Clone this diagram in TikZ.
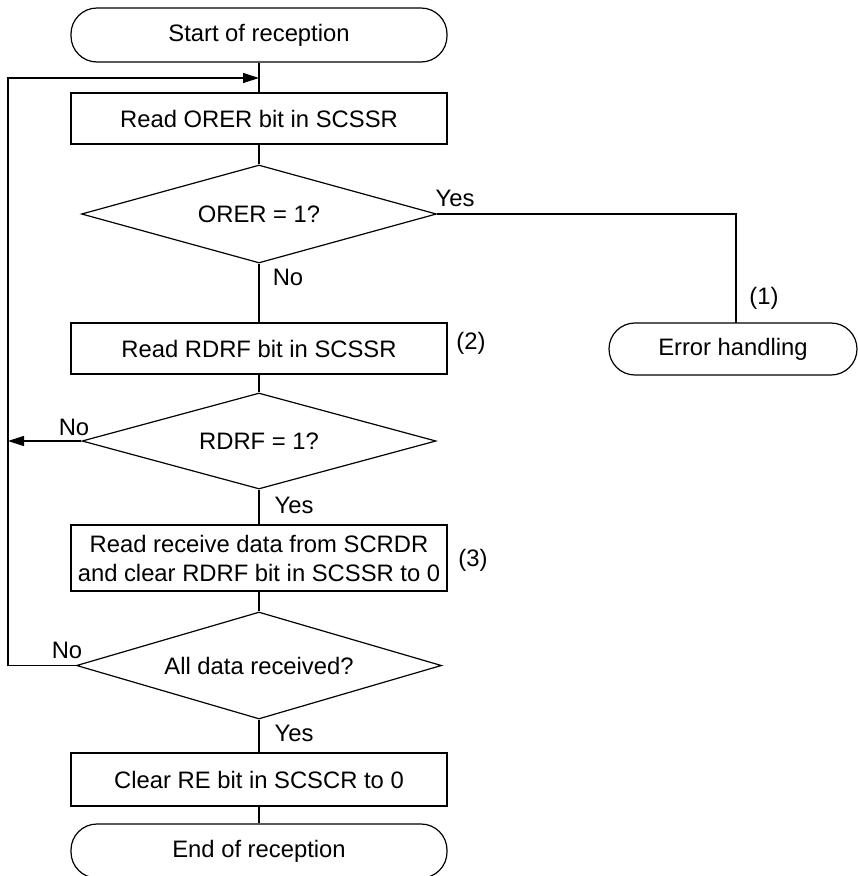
\documentclass[tikz,border=0pt]{standalone}
\usepackage{fontspec}
\setmainfont{Liberation Sans}
\usetikzlibrary{shapes.geometric,arrows.meta}
\tikzset{
  every node/.style={font=\fontsize{23.8}{29}\selectfont, text=black},
  proc/.style={draw, line width=1.2pt, rectangle, minimum width=376pt, inner sep=0pt, align=center},
  term/.style={draw, line width=1.2pt, rectangle, rounded corners=26pt, minimum width=376pt, minimum height=54pt, inner sep=0pt},
  decide/.style={draw, line width=1.2pt, diamond, inner sep=0pt},
  conn/.style={line width=1.2pt},
  tip/.style={-{Triangle[length=16pt,width=10pt]}},
  lbl/.style={inner sep=0pt}
}
\begin{document}
\begin{tikzpicture}[x=1pt,y=-1pt]
\useasboundingbox (0,0) rectangle (858,876);
% nodes
\node[term] (start) at (259,35) {Start of reception};
\node[proc, minimum height=51pt] (b1) at (259,118.5) {Read ORER bit in SCSSR};
\node[decide, aspect=3.62, minimum width=355pt, minimum height=98pt] (d1) at (259,214) {ORER = 1?};
\node[proc, minimum height=51pt] (b2) at (259,348.5) {Read RDRF bit in SCSSR};
\node[decide, aspect=3.69, minimum width=354pt, minimum height=96pt] (d2) at (259,441) {RDRF = 1?};
\node[proc, minimum height=66pt] (b3) at (259,558) {Read receive data from SCRDR\\and clear RDRF bit in SCSSR to 0};
\node[decide, aspect=3.41, minimum width=365pt, minimum height=107pt] (d3) at (259,665.5) {All data received?};
\node[proc, minimum height=53pt] (b4) at (259,779.5) {Clear RE bit in SCSCR to 0};
\node[term] (end) at (259,851) {End of reception};
\node[term, minimum width=248pt, minimum height=52pt] (err) at (733,349) {Error handling};
% coordinates for loop
\coordinate (mt) at (259,78);
\coordinate (lt) at (8,78);
\coordinate (lm) at (8,441);
\coordinate (lb) at (8,665.5);
\coordinate (ye) at (736,214);
\coordinate (eb) at (736,323);
% connectors
\draw[conn] (start.south) -- (b1.north);
\draw[conn] (b1.south) -- (d1.north);
\draw[conn] (d1.south) -- (b2.north);
\draw[conn] (b2.south) -- (d2.north);
\draw[conn] (d2.south) -- (b3.north);
\draw[conn] (b3.south) -- (d3.north);
\draw[conn] (d3.south) -- (b4.north);
\draw[conn] (b4.south) -- (end.north);
\draw[conn] (d1.east) -- (ye) -- (eb);
\draw[conn, tip] (d2.west) -- (lm);
\draw[conn, tip] (d3.west) -- (lb) -- (lt) -- (mt);
% labels
\node[lbl] (l1) at (455,198) {Yes};
\node[lbl] (l2) at (288,277) {No};
\node[lbl] (l3) at (764,298) {(1)};
\node[lbl] (l4) at (471,343) {(2)};
\node[lbl] (l5) at (74,427) {No};
\node[lbl] (l6) at (294,505) {Yes};
\node[lbl] (l7) at (473,560) {(3)};
\node[lbl] (l8) at (67,650) {No};
\node[lbl] (l9) at (294,733) {Yes};
\end{tikzpicture}
\end{document}
